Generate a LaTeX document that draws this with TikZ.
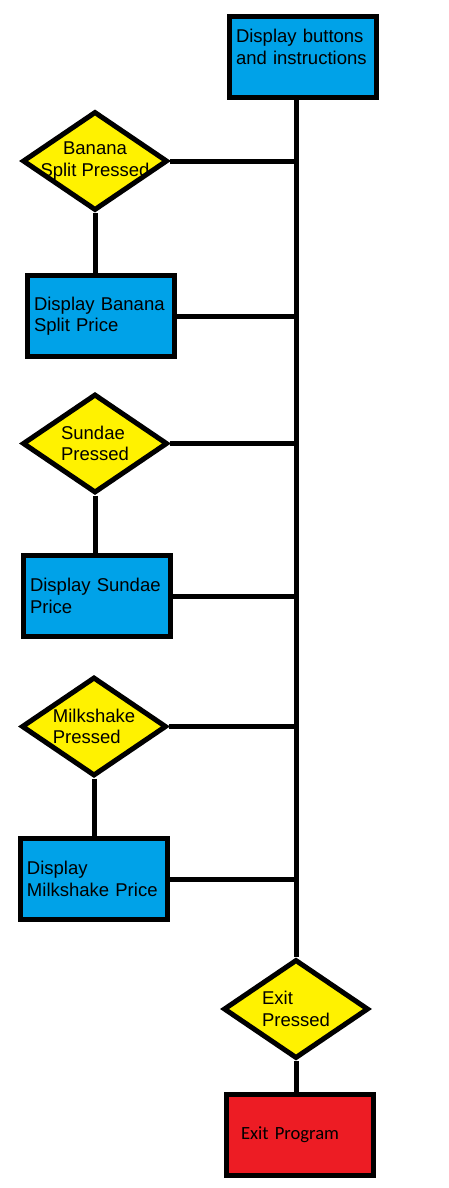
\documentclass[tikz,border=0pt]{standalone}
\usepackage{fontspec}
\setmainfont{Liberation Sans}
\newfontfamily\exitfont{Carlito}
\usetikzlibrary{shapes.geometric}
\definecolor{procblue}{HTML}{00A2E8}
\definecolor{askyellow}{HTML}{FFF200}
\definecolor{stopred}{HTML}{ED1C24}
\tikzset{
  flowline/.style={line width=5pt},
  procbox/.style={draw, line width=5pt, fill=procblue, rectangle,
                  minimum height=81pt, text width=134pt, inner xsep=6.5pt,
                  align=left, font=\fontsize{18.5}{21.5}\selectfont},
  askbox/.style={draw, line width=5pt, fill=askyellow, diamond,
                 minimum width=145pt, minimum height=99pt,
                 inner xsep=-45pt, inner ysep=-18pt, align=left,
                 font=\fontsize{18.5}{21.5}\selectfont},
  stopbox/.style={procbox, fill=stopred, inner xsep=14.5pt, text width=118pt,
                  font=\exitfont\fontsize{18.6}{21.5}\selectfont},
}
\begin{document}
\begin{tikzpicture}[x=1pt, y=-1pt]
  \useasboundingbox (0,0) rectangle (448,1188);
  \node[procbox, text depth=42pt] (start) at (303,57) {Display buttons\\and instructions};
  \node[askbox, align=center] (qbanana) at (95,161) {Banana\\Split Pressed};
  \node[procbox] (pbanana) at (101,316) {Display Banana\\Split Price};
  \node[askbox] (qsundae) at (95,443.5) {Sundae\\Pressed};
  \node[procbox] (psundae) at (97,596) {Display Sundae\\Price};
  \node[askbox] (qshake) at (94,726.5) {Milkshake\\Pressed};
  \node[procbox] (pshake) at (94,879) {Display\\Milkshake Price};
  \node[askbox] (qexit) at (296,1009) {Exit\\Pressed};
  \node[stopbox] (pexit) at (300,1135) {Exit Program};

  % main line down the right side
  \draw[flowline] (start.south -| qexit.north) -- (qexit.north);
  \foreach \n in {qbanana, pbanana, qsundae, psundae, qshake, pshake}
    \draw[flowline] (\n.east) -- (\n.east -| qexit.north);
  \foreach \a/\b in {qbanana/pbanana, qsundae/psundae, qshake/pshake, qexit/pexit}
    \draw[flowline] (\a.south) -- (\a.south |- \b.north);
\end{tikzpicture}
\end{document}
